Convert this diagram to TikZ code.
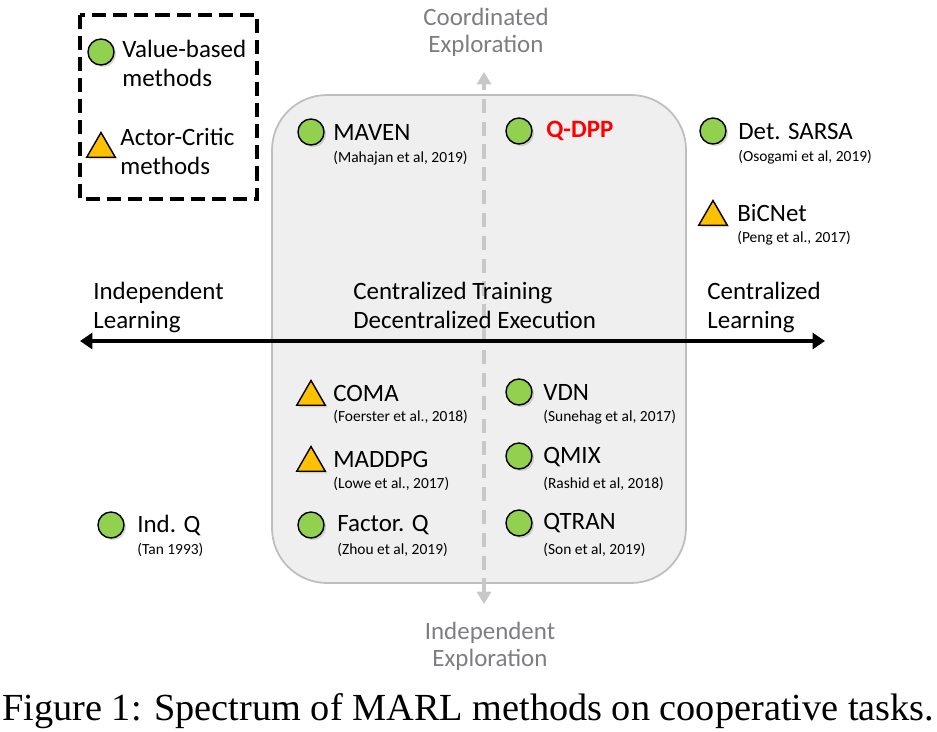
\documentclass[tikz,border=0pt]{standalone}
\usepackage{fontspec}
\setmainfont{Carlito}
\newfontfamily\capfont{Liberation Serif}
\usetikzlibrary{arrows.meta, positioning, shapes.geometric, shadows}
\definecolor{valgreen}{RGB}{146,208,80}
\definecolor{acyellow}{RGB}{255,192,0}
\definecolor{boxgray}{RGB}{239,239,239}
\definecolor{boxline}{RGB}{190,190,190}
\definecolor{explgray}{RGB}{200,200,200}
\definecolor{expltext}{RGB}{125,125,130}
\definecolor{qdppred}{RGB}{255,0,0}

\begin{document}
\begin{tikzpicture}[
x=0.02cm, y=-0.02cm,
valnode/.style={
circle,
draw,
fill=valgreen,
line width=0.8 pt,
minimum size=0.52 cm,
inner sep=0 pt,
drop shadow={opacity=0.3, shadow xshift=1.2pt, shadow yshift=-1.2pt},
},
acnode/.style={
regular polygon,
regular polygon sides=3,
draw,
fill=acyellow,
line width=0.8 pt,
minimum size=0.66 cm,
inner sep=0 pt,
drop shadow={opacity=0.3, shadow xshift=1.2pt, shadow yshift=-1.2pt},
},
method/.style={font=\fontsize{14.2}{16}\selectfont, inner sep=0 pt, anchor=west},
cite/.style={font=\fontsize{8.8}{10}\selectfont, inner sep=0 pt, anchor=west},
axislabel/.style={font=\fontsize{14.2}{16}\selectfont, align=left, inner sep=0 pt, anchor=base west},
expllabel/.style={font=\fontsize{14.2}{15.3}\selectfont, align=center, inner sep=0 pt, anchor=base, text=expltext},
]
\useasboundingbox (0,0) rectangle (937,731);

% legend
\draw[line width=1.8 pt, dash pattern=on 8pt off 4pt] (80,15) rectangle (257,199);
\node [valnode] at (101,52) (legval) {};
\node [acnode] at (101,149) (legac) {};
\node [axislabel] at (122,86) (legval-l) {Value-based\\methods};
\node [axislabel] at (120,174) (legac-l) {Actor-Critic\\methods};

% CTDE box
\draw[fill=boxgray, draw=boxline, line width=1 pt, rounded corners=1.1 cm]
(272,95) rectangle (686,583);

% exploration axis
\coordinate (vbot) at (484,604);
\coordinate (vtop) at (484,72);
\draw[explgray, line width=2.8 pt, dash pattern=on 8pt off 5pt,
arrows={Triangle[width=8pt,length=7pt]-Triangle[width=8pt,length=7pt]}]
(vbot) -- (vtop);
\node [expllabel] at (486,52) (coordexp) {Coordinated\\Exploration};
\node [expllabel] at (490,666) (indexp) {Independent\\Exploration};

% learning axis
\coordinate (lend) at (80,341);
\coordinate (rend) at (825,341);
\draw[line width=2.3 pt,
arrows={Triangle[width=9pt,length=7pt]-Triangle[width=9pt,length=7pt]}]
(lend) -- (rend);
\node [axislabel] at (93,328) (indl) {Independent\\Learning};
\node [axislabel] at (353,328) (ctde) {Centralized Training\\Decentralized Execution};
\node [axislabel] at (707,328) (cenl) {Centralized\\Learning};

% methods
\node [valnode] at (311,132) (maven) {};
\node [valnode] at (519,131) (qdpp) {};
\node [valnode] at (713,131) (sarsa) {};
\node [acnode] at (713,217) (bicnet) {};
\node [acnode] at (311,397) (coma) {};
\node [acnode] at (311,463) (maddpg) {};
\node [valnode] at (311,525) (factq) {};
\node [valnode] at (519,392) (vdn) {};
\node [valnode] at (519,456) (qmix) {};
\node [valnode] at (519,523) (qtran) {};
\node [valnode] at (111,525) (indq) {};

\node [method] at (333,132) (maven-l) {MAVEN};
\node [method, text=qdppred, font=\fontsize{14.2}{16}\selectfont\bfseries] at (546,131) (qdpp-l) {Q-DPP};
\node [method] at (738,131) (sarsa-l) {Det. SARSA};
\node [method] at (737,213) (bicnet-l) {BiCNet};
\node [method] at (333,393) (coma-l) {COMA};
\node [method] at (333,459) (maddpg-l) {MADDPG};
\node [method] at (337,525) (factq-l) {Factor. Q};
\node [method] at (543,392) (vdn-l) {VDN};
\node [method] at (543,457) (qmix-l) {QMIX};
\node [method] at (543,523) (qtran-l) {QTRAN};
\node [method] at (137,525) (indq-l) {Ind. Q};

\path
(maven-l.west) +(0,26) node[cite] (maven-c) {(Mahajan et al, 2019)}
(sarsa-l.west) +(0,26) node[cite] (sarsa-c) {(Osogami et al, 2019)}
(bicnet-l.west) +(0,25) node[cite] (bicnet-c) {(Peng et al., 2017)}
(coma-l.west) +(0,24) node[cite] (coma-c) {(Foerster et al., 2018)}
(maddpg-l.west) +(0,25) node[cite] (maddpg-c) {(Lowe et al., 2017)}
(factq-l.west) +(0,25) node[cite] (factq-c) {(Zhou et al, 2019)}
(vdn-l.west) +(0,25) node[cite] (vdn-c) {(Sunehag et al, 2017)}
(qmix-l.west) +(0,27) node[cite] (qmix-c) {(Rashid et al, 2018)}
(qtran-l.west) +(0,27) node[cite] (qtran-c) {(Son et al, 2019)}
(indq-l.west) +(0,25) node[cite] (indq-c) {(Tan 1993)}
;

% caption
\node [inner sep=0 pt, anchor=base west, font=\capfont\fontsize{21.8}{26}\selectfont]
at (2,720) (caption) {Figure 1: Spectrum of MARL methods on cooperative tasks.};

\end{tikzpicture}
\end{document}
